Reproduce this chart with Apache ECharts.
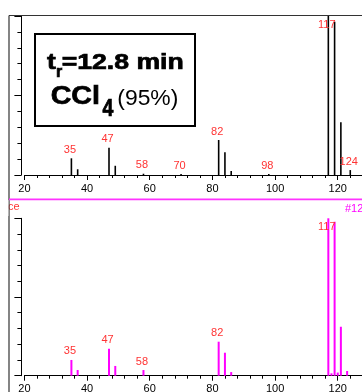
<!DOCTYPE html>
<html>
<head>
<meta charset="utf-8">
<script src="https://cdn.jsdelivr.net/npm/echarts@6/dist/echarts.min.js"></script>
<style>
  html, body { margin: 0; padding: 0; background: #fff; }
  #chart { width: 362px; height: 392px; }
</style>
</head>
<body>
<div id="chart"></div>
<script>
// Measured spectrum (upper panel, black) — m/z and relative abundance (%)
const mzMeasured = [35, 37, 47, 49, 58, 70, 82, 84, 86, 98, 117, 119, 121, 124];
const abundanceMeasured = [10.5, 3.6, 17.2, 5.8, 0.8, 0.6, 22, 14.3, 2.5, 0.6, 100, 96.4, 33.2, 3.1];
const labelledMeasured = [35, 47, 58, 70, 82, 98, 117, 124];

// Library spectrum (lower panel, magenta)
const mzLibrary = [35, 37, 47, 49, 58, 82, 84, 86, 117, 118, 119, 120, 121, 123];
const abundanceLibrary = [10, 3.6, 17.2, 6.2, 3.6, 21.6, 14.6, 2.3, 100, 1.5, 97.8, 2, 31.1, 3];
const labelledLibrary = [35, 47, 58, 82, 117];

// Axis ticks
const mzMin = 20, mzMax = 140, mzStep = 20;
const yTicks = [0, 50, 100];

const FONT = "'Liberation Sans', Arial, sans-serif";
const LABEL_RED = '#ff3333';

function buildBars(mz, vals, labelled) {
  return mz.map((m, i) => {
    const item = { value: [m, vals[i]] };
    if (labelled.includes(m)) {
      item.label = { show: true };
      if (vals[i] >= 90) {
        item.label.position = 'insideTop';
        item.label.distance = 3;
      }
    }
    return item;
  });
}

function xAxisCfg(gridIndex) {
  return {
    type: 'value', gridIndex, min: mzMin, max: mzMax, interval: mzStep,
    axisLine: { show: true, lineStyle: { color: '#000', width: 1 } },
    axisTick: { show: true, length: 5, lineStyle: { color: '#000' } },
    minorTick: { show: true, splitNumber: 5, length: 3, lineStyle: { color: '#000' } },
    axisLabel: { color: '#000', fontSize: 11, fontFamily: FONT, margin: 8 },
    splitLine: { show: false }, minorSplitLine: { show: false }
  };
}

function yAxisCfg(gridIndex) {
  return {
    type: 'value', gridIndex, min: yTicks[0], max: yTicks[2], interval: yTicks[1],
    offset: 3,
    axisLine: { show: true, lineStyle: { color: '#000', width: 1 } },
    axisTick: { show: true, length: 7, lineStyle: { color: '#000' } },
    minorTick: { show: true, splitNumber: 5, length: 4, lineStyle: { color: '#000' } },
    axisLabel: { show: false },
    splitLine: { show: false }, minorSplitLine: { show: false }
  };
}

const barLabel = {
  position: 'top', distance: 3, offset: [-1.5, 0],
  color: LABEL_RED, fontSize: 11, fontFamily: FONT,
  formatter: p => String(p.value[0])
};

// heavy text inside the annotation box
function boxText(text, x, y, font, scaleX, heavy) {
  return {
    type: 'text', z: 21, x, y, scaleX,
    style: {
      text, fill: '#000', font: font + ' ' + FONT,
      stroke: heavy ? '#000' : null, lineWidth: heavy ? 0.7 : 0,
      textAlign: 'left', textVerticalAlign: 'middle'
    }
  };
}

const chart = echarts.init(document.getElementById('chart'), null, { renderer: 'canvas' });

chart.setOption({
  animation: false,
  backgroundColor: '#fff',
  grid: [
    { left: 24.4, top: 16, width: 376, height: 159, containLabel: false, outerBoundsMode: 'none' },
    { left: 24.4, top: 218.3, width: 376, height: 157.4, containLabel: false, outerBoundsMode: 'none' }
  ],
  xAxis: [xAxisCfg(0), xAxisCfg(1)],
  yAxis: [yAxisCfg(0), yAxisCfg(1)],
  series: [
    {
      type: 'bar', xAxisIndex: 0, yAxisIndex: 0, barWidth: 1.6,
      itemStyle: { color: '#000' },
      label: barLabel,
      data: buildBars(mzMeasured, abundanceMeasured, labelledMeasured)
    },
    {
      type: 'bar', xAxisIndex: 1, yAxisIndex: 1, barWidth: 2,
      itemStyle: { color: '#ff00ff' },
      label: barLabel,
      data: buildBars(mzLibrary, abundanceLibrary, labelledLibrary)
    }
  ],
  graphic: [
    // panel frame
    { type: 'line', z: 10, shape: { x1: 9, y1: 15.5, x2: 362, y2: 15.5 }, style: { stroke: '#333', lineWidth: 1.2 } },
    { type: 'line', z: 10, shape: { x1: 9, y1: 15.5, x2: 9, y2: 392 }, style: { stroke: '#333', lineWidth: 1.2 } },
    { type: 'line', z: 10, shape: { x1: 9, y1: 199.3, x2: 362, y2: 199.3 }, style: { stroke: '#ff33ff', lineWidth: 1.8 } },
    // lower panel header texts
    { type: 'text', z: 9, x: 19.5, y: 207, style: { text: 'Abundance', fill: LABEL_RED, font: '11px ' + FONT, textAlign: 'right', textVerticalAlign: 'middle' } },
    { type: 'rect', z: 10, shape: { x: 0, y: 200, width: 8.4, height: 16 }, style: { fill: '#fff' } },
    { type: 'text', z: 9, x: 345, y: 209, style: { text: '#12', fill: '#ff00ff', font: '11px ' + FONT, textAlign: 'left', textVerticalAlign: 'middle' } },
    // retention-time / compound box
    { type: 'rect', z: 20, shape: { x: 35, y: 34, width: 160, height: 92 }, style: { fill: '#fff', stroke: '#000', lineWidth: 2 } },
    boxText('t', 47, 62.9, 'bold 22px', 1.2, true),
    boxText('r', 56, 73, 'bold 16px', 1, true),
    boxText('=12.8 min', 61.7, 62.9, 'bold 22px', 1.21, true),
    boxText('CCl', 50.7, 97, 'bold 26px', 1.1, true),
    boxText('4', 102.5, 109.6, 'bold 23px', 0.85, true),
    boxText('(95%)', 117.3, 98.6, '22px', 1.04, false)
  ]
});
</script>
</body>
</html>
